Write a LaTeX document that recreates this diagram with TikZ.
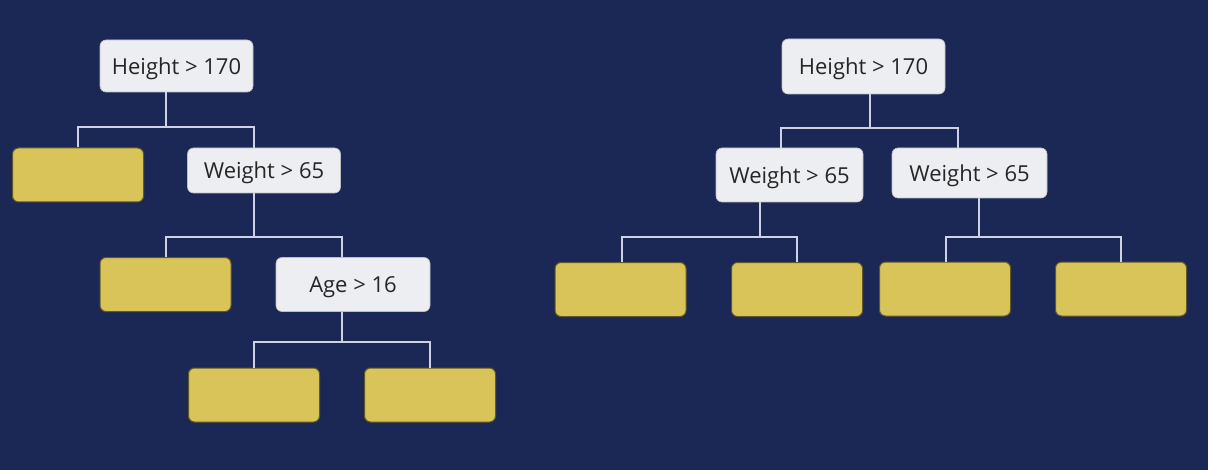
\documentclass[tikz,border=0pt]{standalone}
\usepackage{fontspec}
\setmainfont{Open Sans}
\usetikzlibrary{calc}
\definecolor{navy}{HTML}{1B2856}
\definecolor{splitgrey}{HTML}{EDEEF1}
\definecolor{leafyellow}{HTML}{D9C45A}
\definecolor{wiregrey}{HTML}{CDD3E2}
\tikzset{
    dt-split/.style={
      fill=splitgrey, draw=splitgrey!80!black, line width=0.3pt, rounded corners=3pt,
      inner sep=0pt, text depth=0pt, text=black!85, font=\fontsize{11}{13}\selectfont
    },
    dt-leaf/.style={
      fill=leafyellow, draw=leafyellow!45!black, line width=0.5pt, rounded corners=3pt,
      minimum width=65.5pt, minimum height=27pt, inner sep=0pt
    },
    dt-wire/.style={
      draw=wiregrey, line width=1.1pt
    },
}
\begin{document}
\begin{tikzpicture}[x=0.5pt, y=-0.5pt]

        % BACKGROUND
        \fill[navy] (0,0) rectangle (1208,470);
        \useasboundingbox (0,0) rectangle (1208,470);

        % LEFT TREE, SPLITS
        \node[dt-split, minimum width=76.5pt, minimum height=26pt]   (HEIGHT1) at (176.5,66)  {Height > 170};
        \node[dt-split, minimum width=76.5pt, minimum height=22.5pt] (WEIGHT1) at (264,170.5) {Weight > 65};
        \node[dt-split, minimum width=77pt,   minimum height=27pt]   (AGE1)    at (353,284.5) {Age > 16};

        % LEFT TREE, LEAVES
        \node[dt-leaf] (LEAF1) at (78,175)    {};
        \node[dt-leaf] (LEAF2) at (165.5,284.5) {};
        \node[dt-leaf] (LEAF3) at (254,395)   {};
        \node[dt-leaf] (LEAF4) at (430,395)   {};

        % LEFT TREE, JUNCTIONS
        \coordinate (HEIGHT1J) at (166,127);
        \coordinate (HEIGHT1L) at (78,127);
        \coordinate (HEIGHT1R) at (254,127);
        \coordinate (WEIGHT1J) at (254,237);
        \coordinate (WEIGHT1L) at (166,237);
        \coordinate (WEIGHT1R) at (342,237);
        \coordinate (AGE1J)    at (342,342);
        \coordinate (AGE1L)    at (254,342);
        \coordinate (AGE1R)    at (430,342);

        % LEFT TREE, WIRES
        \draw[dt-wire] (HEIGHT1J |- HEIGHT1.south) -- (HEIGHT1J);
        \draw[dt-wire] (HEIGHT1L |- LEAF1.north) -- (HEIGHT1L) -- (HEIGHT1R) -- (HEIGHT1R |- WEIGHT1.north);
        \draw[dt-wire] (WEIGHT1J |- WEIGHT1.south) -- (WEIGHT1J);
        \draw[dt-wire] (WEIGHT1L |- LEAF2.north) -- (WEIGHT1L) -- (WEIGHT1R) -- (WEIGHT1R |- AGE1.north);
        \draw[dt-wire] (AGE1J |- AGE1.south) -- (AGE1J);
        \draw[dt-wire] (AGE1L |- LEAF3.north) -- (AGE1L) -- (AGE1R) -- (AGE1R |- LEAF4.north);

        % RIGHT TREE, SPLITS
        \node[dt-split, minimum width=81.5pt, minimum height=27.5pt] (HEIGHT2) at (863.5,66.5) {Height > 170};
        \node[dt-split, minimum width=73.5pt, minimum height=27pt]   (WEIGHT2) at (789.5,175)  {Weight > 65};
        \node[dt-split, minimum width=77.5pt, minimum height=25pt]   (WEIGHT3) at (969.5,173)  {Weight > 65};

        % RIGHT TREE, LEAVES
        \node[dt-leaf] (LEAF5) at (620.5,289.5) {};
        \node[dt-leaf] (LEAF6) at (797,289.5)   {};
        \node[dt-leaf] (LEAF7) at (945,289)     {};
        \node[dt-leaf] (LEAF8) at (1121,289)    {};

        % RIGHT TREE, JUNCTIONS
        \coordinate (HEIGHT2J) at (870,128);
        \coordinate (HEIGHT2L) at (781,128);
        \coordinate (HEIGHT2R) at (958,128);
        \coordinate (WEIGHT2J) at (760,237);
        \coordinate (WEIGHT2L) at (622,237);
        \coordinate (WEIGHT2R) at (797,237);
        \coordinate (WEIGHT3J) at (979,237);
        \coordinate (WEIGHT3L) at (946,237);
        \coordinate (WEIGHT3R) at (1121,237);

        % RIGHT TREE, WIRES
        \draw[dt-wire] (HEIGHT2J |- HEIGHT2.south) -- (HEIGHT2J);
        \draw[dt-wire] (HEIGHT2L |- WEIGHT2.north) -- (HEIGHT2L) -- (HEIGHT2R) -- (HEIGHT2R |- WEIGHT3.north);
        \draw[dt-wire] (WEIGHT2J |- WEIGHT2.south) -- (WEIGHT2J);
        \draw[dt-wire] (WEIGHT2L |- LEAF5.north) -- (WEIGHT2L) -- (WEIGHT2R) -- (WEIGHT2R |- LEAF6.north);
        \draw[dt-wire] (WEIGHT3J |- WEIGHT3.south) -- (WEIGHT3J);
        \draw[dt-wire] (WEIGHT3L |- LEAF7.north) -- (WEIGHT3L) -- (WEIGHT3R) -- (WEIGHT3R |- LEAF8.north);

    \end{tikzpicture}
\end{document}
